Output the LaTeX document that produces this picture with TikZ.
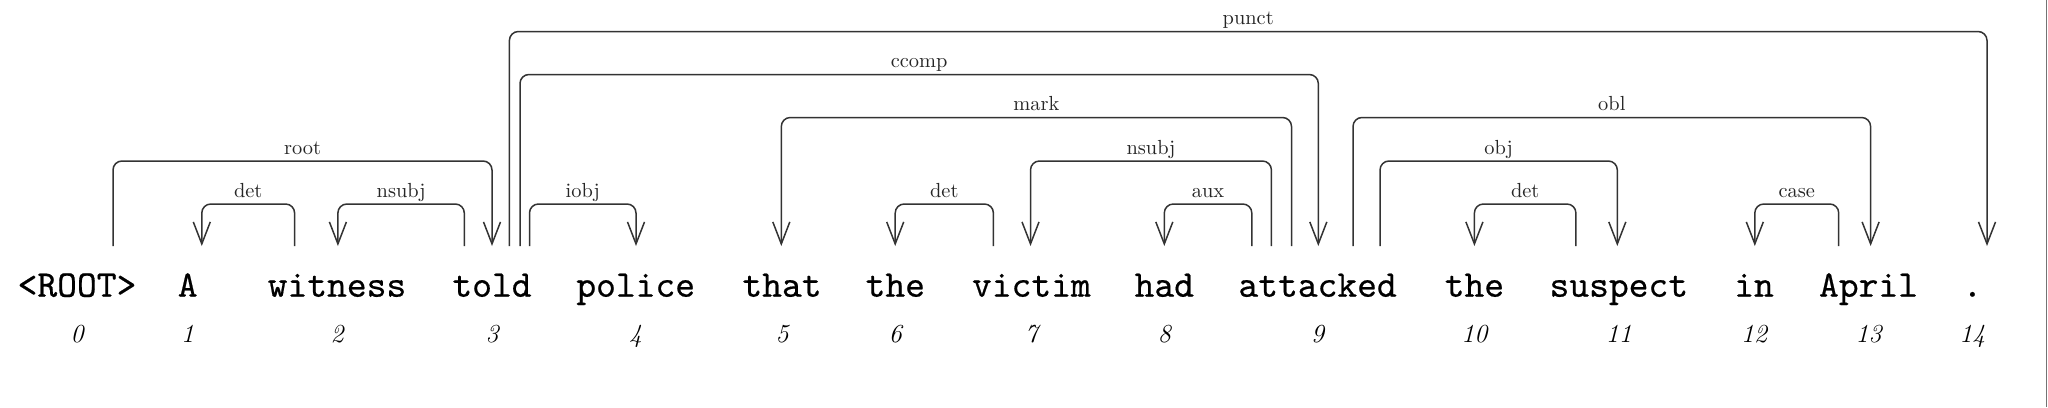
\documentclass[tikz,border=0pt]{standalone}
\usepackage{fontspec}
\newfontfamily\wordfont{lmmono10-regular.otf}[FakeBold=0.5]
\usetikzlibrary{arrows.meta}
\begin{document}
\begin{tikzpicture}[x=0.5pt,y=-0.5pt,
  word/.style={anchor=base, inner sep=0pt, font=\wordfont\fontsize{18.85}{20}\selectfont},
  idx/.style={anchor=base, inner sep=0pt, font=\fontsize{13}{14}\selectfont\itshape},
  deplabel/.style={anchor=base, inner sep=0pt, text=black!85, font=\fontsize{10.2}{11}\selectfont},
  deparrow/.style={draw=black!80, line width=0.75pt, rounded corners=4.5pt,
    -{Straight Barb[length=11pt,width=8.5pt]}},
  edgeline/.style={draw=black!55, line width=0.6pt},
]
\fill[white] (0,0) rectangle (2048,407);
\useasboundingbox (0,0) rectangle (2048,407);

% words and indices
\foreach \x/\w/\i in {77/{<ROOT>}/0, 187.7/A/1, 337/witness/2, 492/told/3,
  635.7/police/4, 782/that/5, 895.3/the/6, 1031.4/victim/7, 1164.3/had/8,
  1317.6/attacked/9, 1474.4/the/10, 1618.8/suspect/11, 1754/in/12,
  1868.5/April/13, 1972.4/./14}{
  \node[word] (w\i) at (\x,296.7) {\w};
  \node[idx] (n\i) at (\x,342.7) {\i};
}

\newcommand\deparc[5]{%
  \coordinate (#5s) at (#1,246);
  \coordinate (#5t) at (#2,246);
  \draw[deparrow] (#5s) |- ({(#1+#2)/2},#3) -| (#5t);
  \node[deplabel] (#5l) at ({(#1+#2)/2},#3-7) {#4};
}

\deparc{113}{492}{161}{root}{root}
\deparc{294.6}{201.8}{204}{det}{detA}
\deparc{464.3}{337.9}{204}{nsubj}{nsubjA}
\deparc{509.4}{1987}{31.5}{punct}{punct}
\deparc{520}{1318.3}{74.5}{ccomp}{ccomp}
\deparc{529.5}{636}{204}{iobj}{iobj}
\deparc{1291.5}{781.3}{117.5}{mark}{mark}
\deparc{993.4}{895.2}{204}{det}{detB}
\deparc{1271.4}{1030.5}{161}{nsubj}{nsubjB}
\deparc{1251.8}{1164.3}{204}{aux}{aux}
\deparc{1353}{1870.6}{117.5}{obl}{obl}
\deparc{1380}{1617.3}{161}{obj}{obj}
\deparc{1575.9}{1474.4}{204}{det}{detC}
\deparc{1838.7}{1754.8}{204}{case}{case}

\coordinate (edgeTop) at (2046.5,0);
\coordinate (edgeBot) at (2046.5,407);
\draw[edgeline] (edgeTop) -- (edgeBot);
\end{tikzpicture}
\end{document}
